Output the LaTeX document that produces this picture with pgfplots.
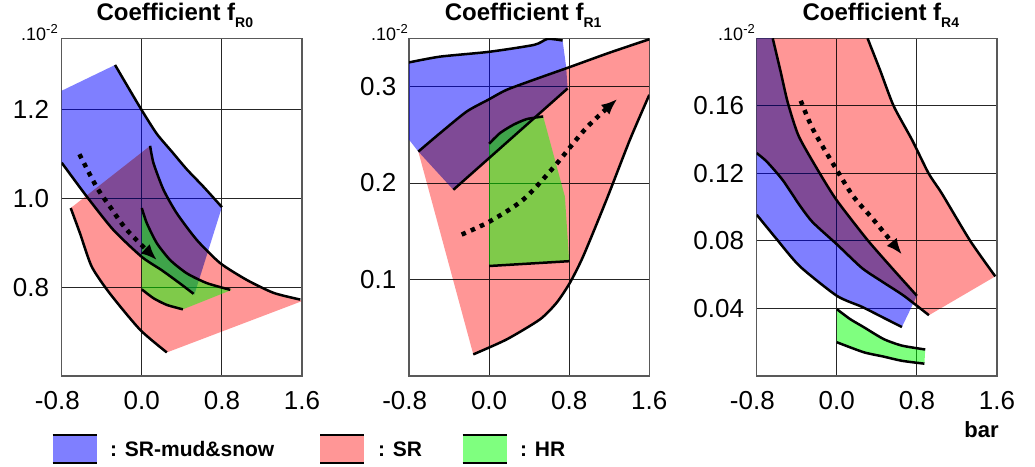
\documentclass[border=0pt]{standalone}
\usepackage{fontspec}
\setmainfont{Liberation Sans}
\usepackage{pgfplots}
\pgfplotsset{compat=1.18}
\usetikzlibrary{arrows.meta}

\definecolor{pinkc}{RGB}{255,150,150}

\pgfplotsset{
  panel/.style={
    scale only axis, width=240.3pt, height=337.7pt,
    anchor=south west,
    xmin=-0.8, xmax=1.6,
    xtick={-0.8,0,0.8,1.6},
    xticklabels={\llap{-}0.8,0.0,0.8,1.6},
    grid=major,
    major grid style={black!85, line width=0.9pt},
    axis line style={black!65, line width=1.4pt},
    major tick length=0pt,
    /pgf/number format/assume math mode=true,
    tick label style={font=\fontsize{26}{30}\selectfont},
    xticklabel style={anchor=base, yshift=-33.3pt},
    yticklabel style={anchor=east, inner sep=0pt, xshift=-12.5pt},
    title style={font=\fontsize{24}{28}\selectfont\bfseries, anchor=base, at={(0.5,1)}, yshift=11.6pt},
  },
  bnd/.style={black, line width=2.5pt, smooth, tension=0.4},
  bluef/.style={fill=blue, fill opacity=0.5, draw=none},
  pinkf/.style={fill=pinkc, draw=none, blend mode=multiply},
  greenf/.style={fill=green, fill opacity=0.5, draw=none},
  arr/.style={black, line width=4.5pt, dash pattern=on 4.5pt off 5.5pt, smooth, -{Latex[length=16pt,width=13pt]}},
}

\begin{document}
\begin{tikzpicture}
\path[use as bounding box] (0pt,0pt) rectangle (1035pt,466pt);

% ---------------- Panel 1 ----------------
\begin{axis}[panel, at={(61.7pt,90pt)}, ymin=0.6, ymax=1.36,
  ytick={0.8,1.0,1.2}, yticklabels={0.8,1.0,1.2},
  title={Coefficient f\raisebox{-6.5pt}{\fontsize{14}{14}\selectfont R0}},
  title style={xshift=-7pt}]
\addplot[bluef] coordinates {(-0.8,1.242) (-0.267,1.30) (-0.15,1.255) (0,1.198) (0.15,1.145) (0.3,1.105) (0.45,1.065) (0.62,1.025) (0.8,0.98) (0.525,0.783) (0.517,0.785) (0.383,0.808) (0.2,0.838) (0,0.868) (-0.285,0.929) (-0.55,1.004) (-0.8,1.08)} -- cycle;
\addplot[pinkf] coordinates {(-0.71,0.978) (0.083,1.118) (0.117,1.079) (0.217,1.019) (0.35,0.966) (0.55,0.906) (0.783,0.854) (1.05,0.816) (1.317,0.787) (1.583,0.772) (1.594,0.768) (0.25,0.653) (-0.017,0.704) (-0.317,0.785) (-0.5,0.846) (-0.617,0.921)} -- cycle;
\addplot[greenf] coordinates {(0,0.978) (0.05,0.944) (0.15,0.899) (0.283,0.861) (0.45,0.831) (0.65,0.809) (0.9,0.794) (0.41,0.75) (0.25,0.76) (0.117,0.775) (0,0.795)} -- cycle;
\addplot[bnd] coordinates {(-0.267,1.30) (-0.15,1.255) (0,1.198) (0.15,1.145) (0.3,1.105) (0.45,1.065) (0.62,1.025) (0.8,0.98)};
\addplot[bnd] coordinates {(-0.8,1.08) (-0.55,1.004) (-0.285,0.929) (0,0.868) (0.2,0.838) (0.383,0.808) (0.517,0.785)};
\addplot[bnd] coordinates {(0.083,1.118) (0.117,1.079) (0.217,1.019) (0.35,0.966) (0.55,0.906) (0.783,0.854) (1.05,0.816) (1.317,0.787) (1.583,0.772)};
\addplot[bnd] coordinates {(-0.71,0.978) (-0.617,0.921) (-0.5,0.846) (-0.317,0.785) (-0.017,0.704) (0.25,0.653)};
\addplot[bnd] coordinates {(0,0.978) (0.05,0.944) (0.15,0.899) (0.283,0.861) (0.45,0.831) (0.65,0.809) (0.883,0.794)};
\addplot[bnd] coordinates {(0,0.795) (0.117,0.775) (0.25,0.76) (0.41,0.75)};
\addplot[arr] coordinates {(-0.623,1.099) (-0.453,1.026) (-0.317,0.981) (-0.15,0.929) (0.15,0.861)};
\end{axis}

% ---------------- Panel 2 ----------------
\begin{axis}[panel, at={(409pt,90pt)}, ymin=0, ymax=0.35,
  ytick={0.1,0.2,0.3}, yticklabels={0.1,0.2,0.3},
  title={Coefficient f\raisebox{-6.5pt}{\fontsize{14}{14}\selectfont R1}},
  title style={xshift=-6pt}]
\addplot[bluef] coordinates {(-0.8,0.325) (-0.49,0.331) (0,0.336) (0.45,0.3432) (0.584,0.3494) (0.734,0.3477) (0.77,0.32) (0.784,0.298) (-0.357,0.193) (-0.707,0.2326) (-0.8,0.245)} -- cycle;
\addplot[pinkf] coordinates {(-0.707,0.2326) (-0.49,0.2517) (-0.224,0.2741) (0,0.2868) (0.175,0.2966) (0.5,0.309) (0.8,0.320) (1.2,0.335) (1.6,0.349) (1.6,0.2914) (1.406,0.2448) (1.173,0.1828) (0.94,0.1241) (0.807,0.0966) (0.674,0.0759) (0.507,0.0586) (0.175,0.0379) (-0.158,0.0224)} -- cycle;
\addplot[greenf] coordinates {(0,0.2407) (0.108,0.2517) (0.241,0.2603) (0.374,0.2662) (0.54,0.269) (0.757,0.186) (0.8,0.119) (0,0.114)} -- cycle;
\addplot[bnd] coordinates {(-0.8,0.325) (-0.49,0.331) (0,0.336) (0.45,0.3432) (0.584,0.3494) (0.734,0.3477)};
\addplot[bnd] coordinates {(-0.357,0.193) (0.784,0.298)};
\addplot[bnd] coordinates {(-0.707,0.2326) (-0.49,0.2517) (-0.224,0.2741) (0,0.2868) (0.175,0.2966) (0.5,0.309) (0.8,0.320) (1.2,0.335) (1.6,0.349)};
\addplot[bnd] coordinates {(1.6,0.2914) (1.406,0.2448) (1.173,0.1828) (0.94,0.1241) (0.807,0.0966) (0.674,0.0759) (0.507,0.0586) (0.175,0.0379) (-0.158,0.0224)};
\addplot[bnd] coordinates {(0,0.2407) (0.108,0.2517) (0.241,0.2603) (0.374,0.2662) (0.54,0.269)};
\addplot[bnd] coordinates {(0,0.114) (0.8,0.119)};
\addplot[arr] coordinates {(-0.274,0.1466) (0.008,0.1603) (0.341,0.1828) (0.65,0.217) (0.97,0.257) (1.28,0.287)};
\end{axis}

% ---------------- Panel 3 ----------------
\begin{axis}[panel, at={(756.7pt,90pt)}, ymin=0, ymax=0.2,
  ytick={0.04,0.08,0.12,0.16}, yticklabels={0.04,0.08,0.12,0.16},
  title={Coefficient f\raisebox{-6.5pt}{\fontsize{14}{14}\selectfont R4}},
  title style={xshift=4pt}]
\addplot[bluef] coordinates {(-0.8,0.2) (-0.64,0.2) (-0.56,0.18) (-0.49,0.162) (-0.38,0.142) (-0.17,0.12) (0,0.104) (0.3,0.081) (0.55,0.064) (0.8,0.0475) (0.65,0.029) (0.45,0.035) (0.25,0.041) (0,0.0475) (-0.37,0.065) (-0.6,0.081) (-0.8,0.0955)} -- cycle;
\addplot[pinkf] coordinates {(-0.8,0.2) (0.307,0.2) (0.433,0.181) (0.567,0.16) (0.75,0.14) (0.917,0.12) (1.05,0.108) (1.333,0.08) (1.583,0.059) (0.92,0.036) (0.67,0.0475) (0.45,0.056) (0.25,0.064) (0,0.078) (-0.24,0.091) (-0.37,0.101) (-0.54,0.116) (-0.7,0.127) (-0.8,0.132)} -- cycle;
\addplot[greenf] coordinates {(0,0.0396) (0.133,0.0337) (0.267,0.029) (0.467,0.0219) (0.65,0.018) (0.883,0.0157) (0.875,0.0073) (0.65,0.009) (0.467,0.0115) (0.267,0.0141) (0,0.02)} -- cycle;
\addplot[bnd] coordinates {(-0.64,0.2) (-0.56,0.18) (-0.49,0.162) (-0.38,0.142) (-0.17,0.12) (0,0.104) (0.3,0.081) (0.55,0.064) (0.8,0.0475)};
\addplot[bnd] coordinates {(-0.8,0.132) (-0.7,0.127) (-0.54,0.116) (-0.37,0.101) (-0.24,0.091) (0,0.078) (0.25,0.064) (0.45,0.056) (0.67,0.0475) (0.92,0.036)};
\addplot[bnd] coordinates {(-0.8,0.0955) (-0.6,0.081) (-0.37,0.065) (0,0.0475) (0.25,0.041) (0.45,0.035) (0.65,0.029)};
\addplot[bnd] coordinates {(0.307,0.2) (0.433,0.181) (0.567,0.16) (0.75,0.14) (0.917,0.12) (1.05,0.108) (1.333,0.08) (1.583,0.059)};
\addplot[bnd] coordinates {(0,0.0396) (0.133,0.0337) (0.267,0.029) (0.467,0.0219) (0.65,0.018) (0.883,0.0157)};
\addplot[bnd] coordinates {(0,0.02) (0.267,0.0141) (0.467,0.0115) (0.65,0.009) (0.875,0.0073)};
\addplot[arr] coordinates {(-0.36,0.163) (-0.233,0.1455) (0,0.122) (0.167,0.1062) (0.367,0.0925) (0.65,0.072)};
\end{axis}

% ---------------- scale labels ----------------
\foreach \xx in {58,408,755}{
  \node[anchor=base east, inner sep=0pt, font=\fontsize{18}{20}\selectfont] at (\xx pt,425pt) {.10\raisebox{7pt}{\fontsize{13}{13}\selectfont -2}};
}
\node[anchor=base, inner sep=0pt, font=\fontsize{22}{24}\selectfont\bfseries] at (981.5pt,29pt) {bar};

% ---------------- legend ----------------
\fill[blue, fill opacity=0.5] (52.7pt,3pt) rectangle (96.7pt,31pt);
\draw[line width=2pt] (52.7pt,31pt) -- (96.7pt,31pt) (52.7pt,3pt) -- (96.7pt,3pt);
\node[anchor=base west, inner sep=0pt, font=\fontsize{21}{24}\selectfont\bfseries] at (110pt,9.3pt) {: SR-mud\&snow};
\fill[pinkc] (320pt,3pt) rectangle (364.3pt,31pt);
\draw[line width=2pt] (320pt,31pt) -- (364.3pt,31pt) (320pt,3pt) -- (364.3pt,3pt);
\node[anchor=base west, inner sep=0pt, font=\fontsize{21}{24}\selectfont\bfseries] at (378pt,9.3pt) {: SR};
\fill[green, fill opacity=0.5] (462.7pt,3pt) rectangle (506.7pt,31pt);
\draw[line width=2pt] (462.7pt,31pt) -- (506.7pt,31pt) (462.7pt,3pt) -- (506.7pt,3pt);
\node[anchor=base west, inner sep=0pt, font=\fontsize{21}{24}\selectfont\bfseries] at (520pt,9.3pt) {: HR};
\end{tikzpicture}
\end{document}
